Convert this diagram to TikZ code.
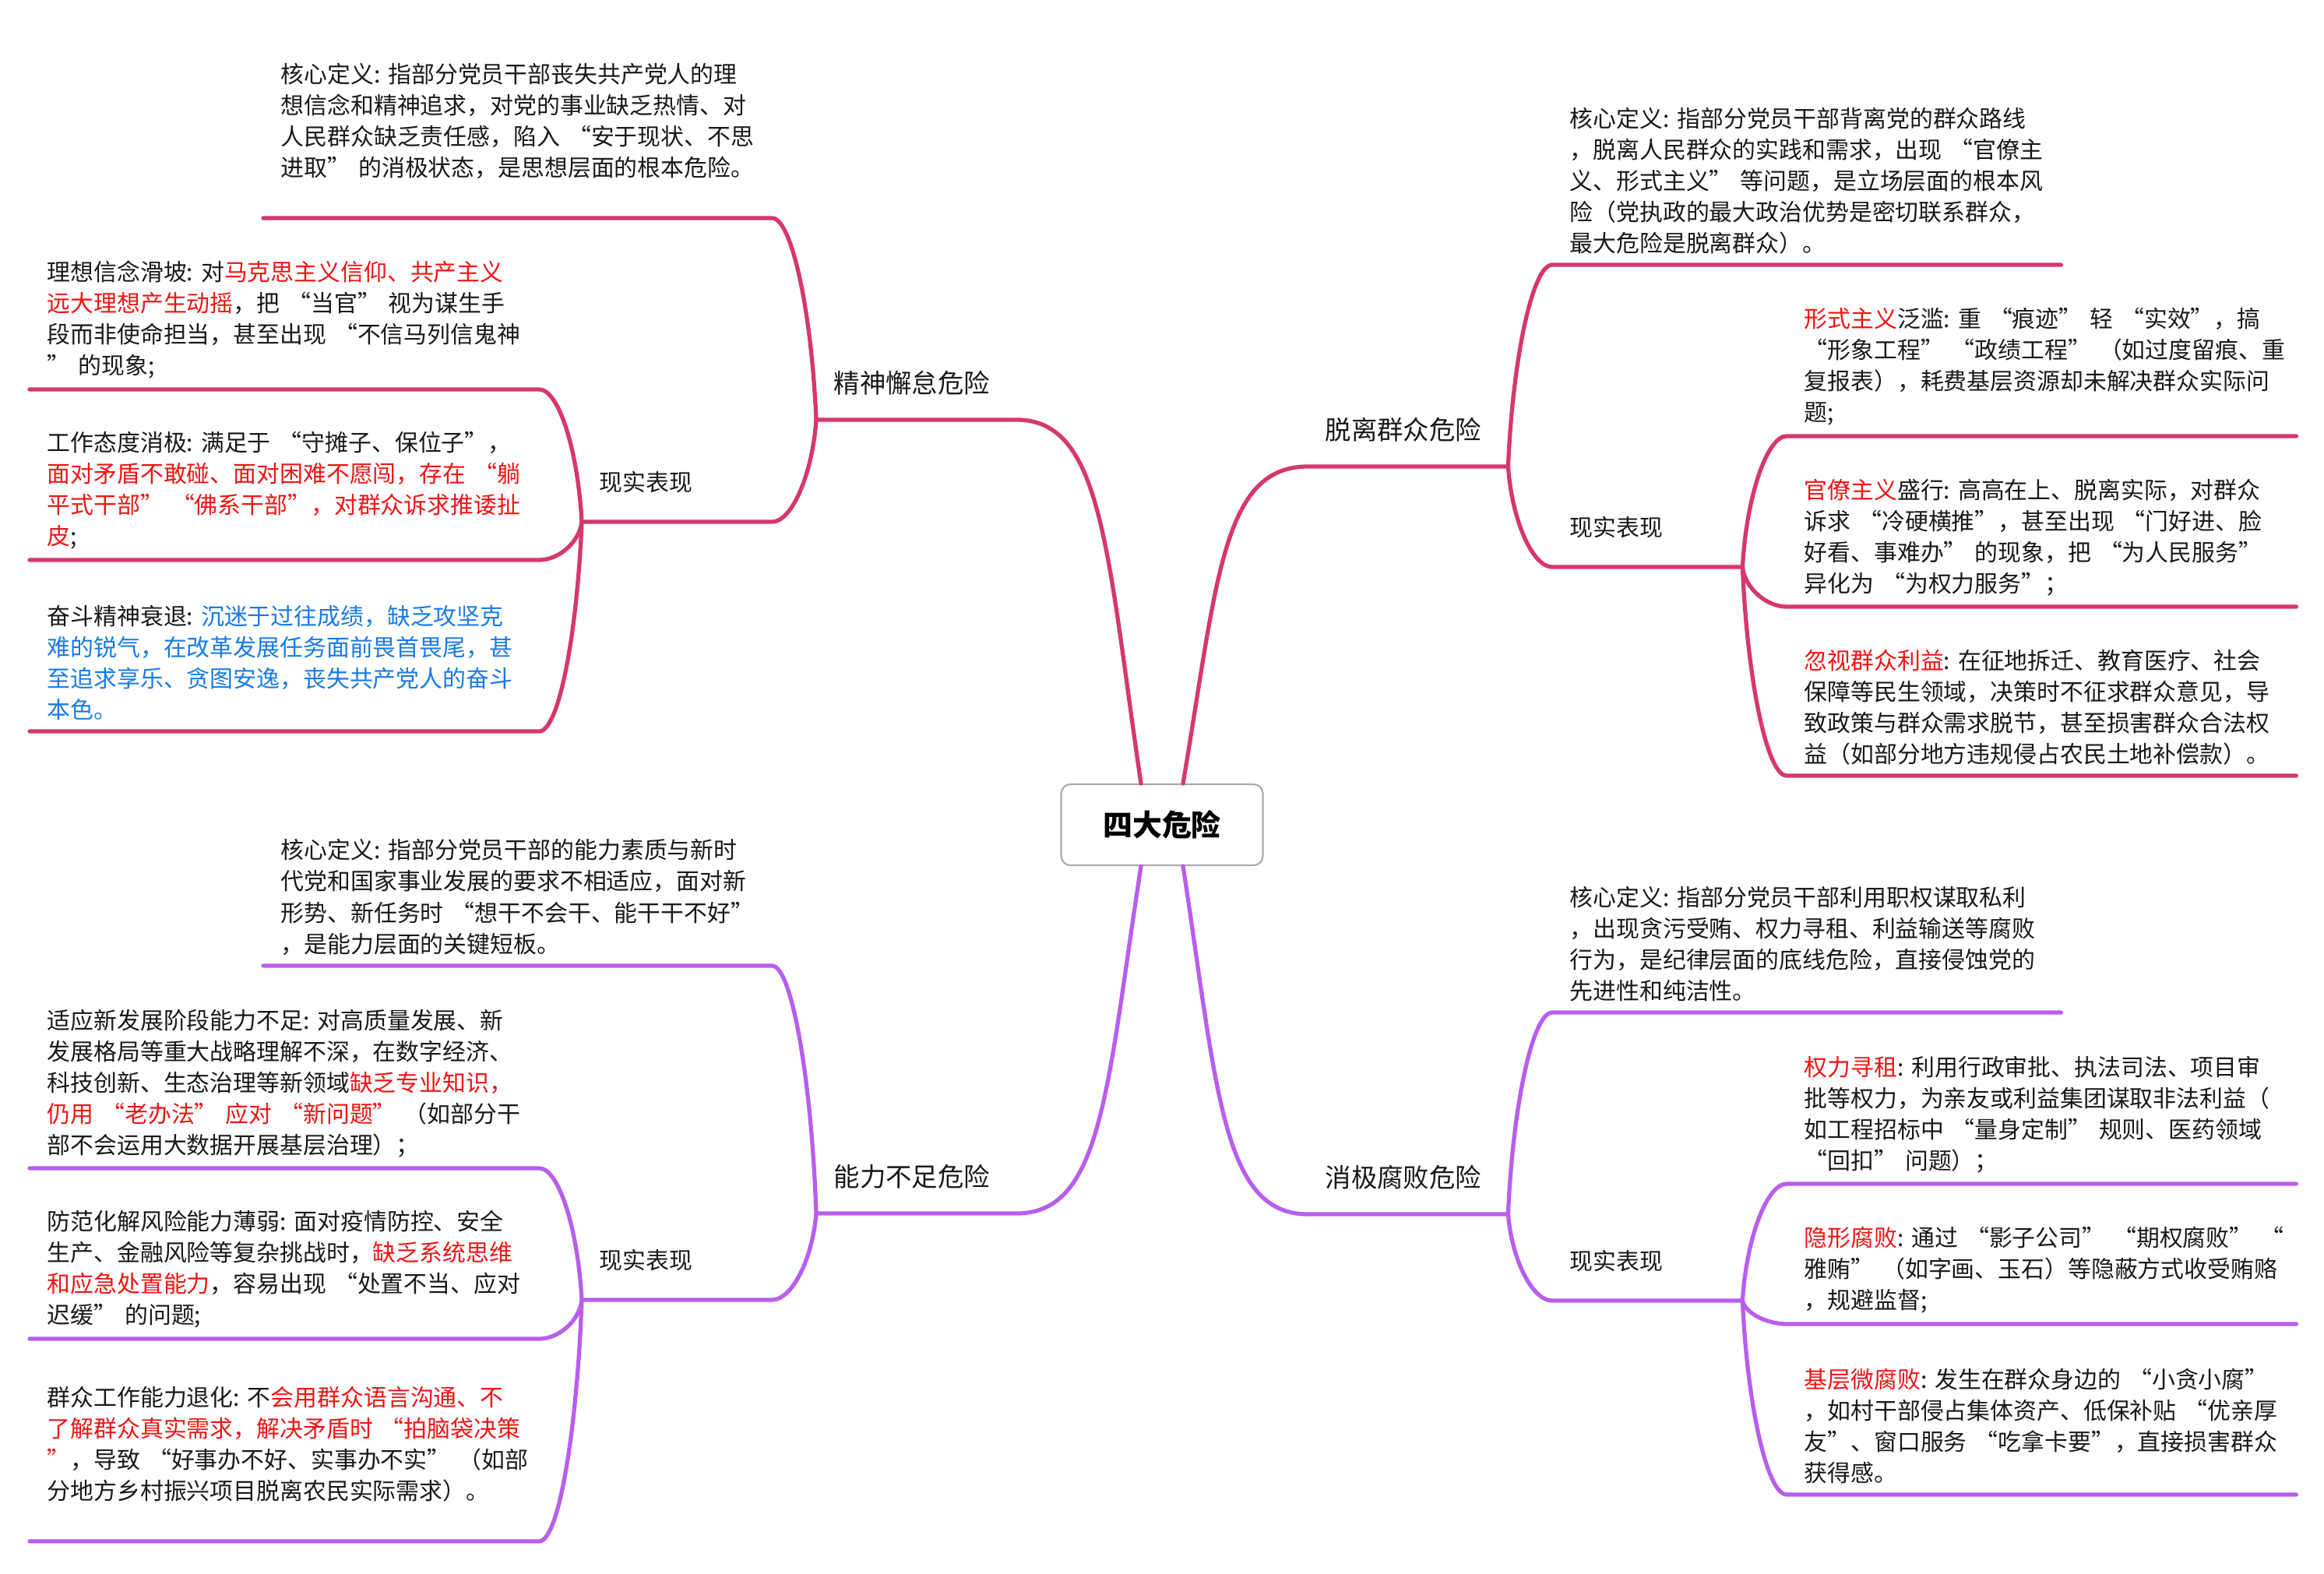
\documentclass[tikz,border=0pt]{standalone}
\usepackage{fontspec}
\usepackage{xcolor}
\newfontfamily\cjk{Noto Sans CJK SC}
\definecolor{redline}{RGB}{214,55,110}
\definecolor{purpleline}{RGB}{184,94,238}
\definecolor{hlred}{RGB}{240,20,20}
\definecolor{hlblue}{RGB}{24,122,230}
\definecolor{ink}{RGB}{25,25,25}
\definecolor{rootframe}{RGB}{170,170,170}
\newcommand{\hlr}[1]{{\color{hlred}#1}}
\newcommand{\hlb}[1]{{\color{hlblue}#1}}

\begin{document}
\begin{tikzpicture}[
    topic/.style={anchor=south west, inner xsep=0.22cm, inner ysep=0.13cm, align=left, text=ink, font=\cjk\fontsize{8.5}{11.4}\selectfont},
    defn/.style={topic, text width=6.08cm},
    item/.style={topic, text width=6.09cm},
    branch/.style={topic, text width=2.12cm, inner ysep=0.31cm, font=\cjk\fontsize{9.5}{12}\selectfont},
    facet/.style={topic, text width=1.99cm, inner ysep=0.36cm},
    root/.style={draw=rootframe, fill=white, rounded corners=0.12cm, line width=0.6pt, minimum width=2.59cm, minimum height=1.04cm, font=\cjk\bfseries\fontsize{10.8}{13}\selectfont},
    redpath/.style={draw=redline, line width=1.5pt, line cap=round, line join=round},
    purplepath/.style={draw=purpleline, line width=1.5pt, line cap=round, line join=round}
]
\fill[white] (0,0) rectangle (29.84,-20.20);
\useasboundingbox (0,0) rectangle (29.84,-20.20);

% Centre
\node[root] (root) at (14.92,-10.59) {四大危险};

% Upper left: 精神懈怠
\node[branch] (b1) at (10.48,-5.39) {精神懈怠危险};
\node[defn] (d1) at (3.38,-2.80) {核心定义:~指部分党员干部丧失共产党人的理\\想信念和精神追求，对党的事业缺乏热情、对\\人民群众缺乏责任感，陷入~“安于现状、不思\\进取”~的消极状态，是思想层面的根本危险。\\~};
\node[facet] (r1) at (7.47,-6.70) {现实表现};
\node[item] (l1a) at (0.38,-5.00) {理想信念滑坡:~对\hlr{马克思主义信仰、共产主义\\远大理想产生动摇}，把~“当官”~视为谋生手\\段而非使命担当，甚至出现~“不信马列信鬼神\\”~的现象;};
\node[item] (l1b) at (0.38,-7.19) {工作态度消极:~满足于~“守摊子、保位子”，\\\hlr{面对矛盾不敢碰、面对困难不愿闯，存在~“躺\\平式干部”~“佛系干部”，对群众诉求推诿扯\\皮};};
\node[item] (l1c) at (0.38,-9.39) {奋斗精神衰退:~\hlb{沉迷于过往成绩，缺乏攻坚克\\难的锐气，在改革发展任务面前畏首畏尾，甚\\至追求享乐、贪图安逸，丧失共产党人的奋斗\\本色。}};

% Upper right: 脱离群众
\node[branch] (b2) at (16.79,-5.99) {脱离群众危险};
\node[defn] (d2) at (19.93,-3.40) {核心定义:~指部分党员干部背离党的群众路线\\，脱离人民群众的实践和需求，出现~“官僚主\\义、形式主义”~等问题，是立场层面的根本风\\险（党执政的最大政治优势是密切联系群众，\\最大危险是脱离群众）。};
\node[facet] (r2) at (19.93,-7.28) {现实表现};
\node[item] (s2a) at (22.94,-5.60) {\hlr{形式主义}泛滥:~重~“痕迹”~轻~“实效”，搞\\“形象工程”~“政绩工程”~（如过度留痕、重\\复报表），耗费基层资源却未解决群众实际问\\题;};
\node[item] (s2b) at (22.94,-7.79) {\hlr{官僚主义}盛行:~高高在上、脱离实际，对群众\\诉求~“冷硬横推”，甚至出现~“门好进、脸\\好看、事难办”~的现象，把~“为人民服务”\\异化为~“为权力服务”；};
\node[item] (s2c) at (22.94,-9.96) {\hlr{忽视群众利益}:~在征地拆迁、教育医疗、社会\\保障等民生领域，决策时不征求群众意见，导\\致政策与群众需求脱节，甚至损害群众合法权\\益（如部分地方违规侵占农民土地补偿款）。};

% Lower left: 能力不足
\node[branch] (b3) at (10.48,-15.58) {能力不足危险};
\node[defn] (d3) at (3.38,-12.40) {核心定义:~指部分党员干部的能力素质与新时\\代党和国家事业发展的要求不相适应，面对新\\形势、新任务时~“想干不会干、能干干不好”\\，是能力层面的关键短板。};
\node[facet] (r3) at (7.47,-16.69) {现实表现};
\node[item] (l3a) at (0.38,-15.00) {适应新发展阶段能力不足:~对高质量发展、新\\发展格局等重大战略理解不深，在数字经济、\\科技创新、生态治理等新领域\hlr{缺乏专业知识，\\仍用~“老办法”~应对~“新问题”}~（如部分干\\部不会运用大数据开展基层治理）；};
\node[item] (l3b) at (0.38,-17.19) {防范化解风险能力薄弱:~面对疫情防控、安全\\生产、金融风险等复杂挑战时，\hlr{缺乏系统思维\\和应急处置能力}，容易出现~“处置不当、应对\\迟缓”~的问题;};
\node[item] (l3c) at (0.38,-19.79) {群众工作能力退化:~不\hlr{会用群众语言沟通、不\\了解群众真实需求，解决矛盾时~“拍脑袋决策\\”}，导致~“好事办不好、实事办不实”~（如部\\分地方乡村振兴项目脱离农民实际需求）。\\~};

% Lower right: 消极腐败
\node[branch] (b4) at (16.79,-15.59) {消极腐败危险};
\node[defn] (d4) at (19.93,-13.00) {核心定义:~指部分党员干部利用职权谋取私利\\，出现贪污受贿、权力寻租、利益输送等腐败\\行为，是纪律层面的底线危险，直接侵蚀党的\\先进性和纯洁性。};
\node[facet] (r4) at (19.93,-16.70) {现实表现};
\node[item] (s4a) at (22.94,-15.20) {\hlr{权力寻租}:~利用行政审批、执法司法、项目审\\批等权力，为亲友或利益集团谋取非法利益（\\如工程招标中~“量身定制”~规则、医药领域\\“回扣”~问题）；};
\node[item] (s4b) at (22.94,-17.00) {\hlr{隐形腐败}:~通过~“影子公司”~“期权腐败”~“\\雅贿”~（如字画、玉石）等隐蔽方式收受贿赂\\，规避监督;};
\node[item] (s4c) at (22.94,-19.19) {\hlr{基层微腐败}:~发生在群众身边的~“小贪小腐”\\，如村干部侵占集体资产、低保补贴~“优亲厚\\友”、窗口服务~“吃拿卡要”，直接损害群众\\获得感。};

% Connectors, upper half
\draw[redpath] (b1.south west) -- (b1.south east) .. controls +(1.1,0) and +(-0.44,3.0) .. ([xshift=-0.27cm]root.north);
\draw[redpath] (d1.south west) -- (d1.south east) .. controls +(0.25,0) and +(-0.06,1.40) .. (b1.south west);
\draw[redpath] (r1.south west) -- (r1.south east) .. controls +(0.25,0) and +(-0.05,-0.71) .. (b1.south west);
\draw[redpath] (l1a.south west) -- (l1a.south east) .. controls +(0.25,0) and +(-0.05,0.92) .. (r1.south west);
\draw[redpath] (l1b.south west) -- (l1b.south east) .. controls +(0.25,0) and +(-0.03,-0.26) .. (r1.south west);
\draw[redpath] (l1c.south west) -- (l1c.south east) .. controls +(0.25,0) and +(-0.06,-1.45) .. (r1.south west);

\draw[redpath] (b2.south east) -- (b2.south west) .. controls +(-1.1,0) and +(0.44,2.6) .. ([xshift=0.27cm]root.north);
\draw[redpath] (d2.south east) -- (d2.south west) .. controls +(-0.25,0) and +(0.06,1.40) .. (b2.south east);
\draw[redpath] (r2.south east) -- (r2.south west) .. controls +(-0.25,0) and +(0.05,-0.70) .. (b2.south east);
\draw[redpath] (s2a.south east) -- (s2a.south west) .. controls +(-0.25,0) and +(0.05,0.91) .. (r2.south east);
\draw[redpath] (s2b.south east) -- (s2b.south west) .. controls +(-0.25,0) and +(0.03,-0.28) .. (r2.south east);
\draw[redpath] (s2c.south east) -- (s2c.south west) .. controls +(-0.25,0) and +(0.06,-1.45) .. (r2.south east);

% Connectors, lower half
\draw[purplepath] (b3.south west) -- (b3.south east) .. controls +(1.1,0) and +(-0.44,-2.86) .. ([xshift=-0.27cm]root.south);
\draw[purplepath] (d3.south west) -- (d3.south east) .. controls +(0.25,0) and +(-0.06,1.72) .. (b3.south west);
\draw[purplepath] (r3.south west) -- (r3.south east) .. controls +(0.25,0) and +(-0.05,-0.60) .. (b3.south west);
\draw[purplepath] (l3a.south west) -- (l3a.south east) .. controls +(0.25,0) and +(-0.05,0.91) .. (r3.south west);
\draw[purplepath] (l3b.south west) -- (l3b.south east) .. controls +(0.25,0) and +(-0.03,-0.27) .. (r3.south west);
\draw[purplepath] (l3c.south west) -- (l3c.south east) .. controls +(0.25,0) and +(-0.06,-1.67) .. (r3.south west);

\draw[purplepath] (b4.south east) -- (b4.south west) .. controls +(-1.1,0) and +(0.44,-2.87) .. ([xshift=0.27cm]root.south);
\draw[purplepath] (d4.south east) -- (d4.south west) .. controls +(-0.25,0) and +(0.06,1.40) .. (b4.south east);
\draw[purplepath] (r4.south east) -- (r4.south west) .. controls +(-0.25,0) and +(0.05,-0.60) .. (b4.south east);
\draw[purplepath] (s4a.south east) -- (s4a.south west) .. controls +(-0.25,0) and +(0.05,0.81) .. (r4.south east);
\draw[purplepath] (s4b.south east) -- (s4b.south west) .. controls +(-0.25,0) and +(0.03,-0.16) .. (r4.south east);
\draw[purplepath] (s4c.south east) -- (s4c.south west) .. controls +(-0.25,0) and +(0.06,-1.34) .. (r4.south east);

\end{tikzpicture}
\end{document}
